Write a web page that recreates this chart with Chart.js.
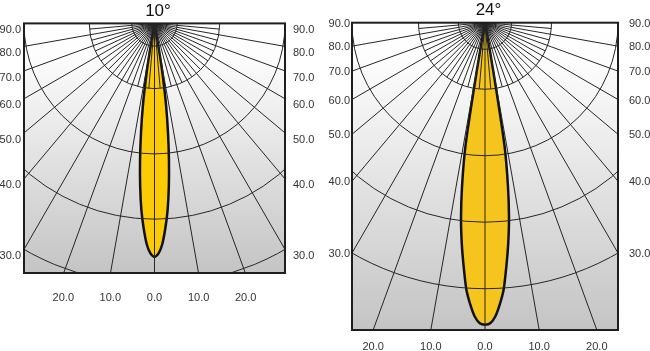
<!DOCTYPE html>
<html>
<head>
<meta charset="utf-8">
<script src="https://cdn.jsdelivr.net/npm/chart.js@4.4.1/dist/chart.umd.min.js"></script>
<style>
  body { margin: 0; background: #fff; }
  #wrap { position: relative; width: 650px; height: 351px; overflow: hidden; }
  #box1 { position: absolute; left: 0; top: 0; width: 316px; height: 351px; }
  #box2 { position: absolute; left: 327px; top: 0; width: 323px; height: 351px; }
</style>
</head>
<body>
<div id="wrap">
  <div id="box1"><canvas id="chart10" width="316" height="351"></canvas></div>
  <div id="box2"><canvas id="chart24" width="323" height="351"></canvas></div>
</div>
<script>
// angle labels (degrees from beam axis)
const sideAngles = [90, 80, 70, 60, 50, 40, 30];
const sideLabels = ["90.0", "80.0", "70.0", "60.0", "50.0", "40.0", "30.0"];
const bottomAngles = [-20, -10, 0, 10, 20];
const bottomLabels = ["20.0", "10.0", "0.0", "10.0", "20.0"];

// intensity rings, % of outer ring
const rings10 = [8.7, 25, 50, 75, 100];
const rings24 = [10, 25, 50, 75, 100];

// beam profiles: angle (deg) -> relative intensity (%)
const beamAngles10 = [0, 1, 2, 3, 4, 5, 6, 7, 8, 9, 9.5, 10, 10.5];
const beamValues10 = [89.8, 88.5, 85, 79, 72, 63, 53, 42.5, 32, 20, 12, 5, 0];
const beamAngles24 = [0, 1, 2, 3, 4, 5, 6, 7, 8, 9, 9.5, 10, 10.5];
const beamValues24 = [113.5, 113, 110.5, 106, 100.5, 92, 83.5, 74, 62, 47, 26, 10, 0];

const DEG = Math.PI / 180;
const FONT = "Arial, 'Liberation Sans', sans-serif";

function beamPoints(angles, values) {
    const pts = [];
    for (let i = angles.length - 1; i > 0; i--) {
        pts.push({ x: -values[i] * Math.sin(angles[i] * DEG), y: -values[i] * Math.cos(angles[i] * DEG) });
    }
    for (let i = 0; i < angles.length; i++) {
        pts.push({ x: values[i] * Math.sin(angles[i] * DEG), y: -values[i] * Math.cos(angles[i] * DEG) });
    }
    return pts;
}

const polarGrid = {
    id: "polarGrid",
    beforeDatasetsDraw(chart) {
        const a = chart.chartArea;
        const ctx = chart.ctx;
        const g = ctx.createLinearGradient(0, a.top, 0, a.bottom);
        g.addColorStop(0, "#ffffff");
        g.addColorStop(0.12, "#fdfdfd");
        g.addColorStop(1, "#c4c4c4");
        ctx.save();
        ctx.fillStyle = g;
        ctx.fillRect(a.left, a.top, a.width, a.height);
        ctx.restore();
    },
    afterDatasetsDraw(chart, args, opts) {
        const a = chart.chartArea;
        const ctx = chart.ctx;
        const xs = chart.scales.x, ys = chart.scales.y;
        const cx = xs.getPixelForValue(0), cy = ys.getPixelForValue(0);
        const unit = xs.getPixelForValue(1) - cx;
        ctx.save();
        ctx.beginPath();
        ctx.rect(a.left, a.top, a.width, a.height);
        ctx.clip();
        ctx.strokeStyle = "#262626";
        ctx.lineWidth = 1;
        // rings
        opts.rings.forEach(r => {
            ctx.beginPath();
            ctx.arc(cx, cy, r * unit, 0, Math.PI);
            ctx.stroke();
        });
        // major spokes every 10 deg
        for (let d = -80; d <= 80; d += 10) {
            ctx.beginPath();
            ctx.moveTo(cx, cy);
            ctx.lineTo(cx + Math.sin(d * DEG) * 1000, cy + Math.cos(d * DEG) * 1000);
            ctx.stroke();
        }
        // minor spokes up to the first full ring
        const len = opts.rings[1] * unit;
        for (let d = -85; d <= 85; d += 10) {
            ctx.beginPath();
            ctx.moveTo(cx, cy);
            ctx.lineTo(cx + Math.sin(d * DEG) * len, cy + Math.cos(d * DEG) * len);
            ctx.stroke();
        }
        ctx.restore();
        ctx.save();
        ctx.strokeStyle = "#1e1e1e";
        ctx.lineWidth = 2;
        ctx.strokeRect(a.left, a.top, a.width, a.height);
        ctx.restore();
    }
};

function makeChart(id, cfg) {
    const halfW = 50;
    const depth = cfg.depth;
    const sideTicks = {
        color: "#333",
        font: { family: FONT, size: 11 },
        autoSkip: false,
        labelOffset: cfg.sideOffset,
        callback: (v, i) => sideLabels[i]
    };
    const sideTickValues = sideAngles.map(d => ({ value: -halfW / Math.tan(d * DEG) }));

    new Chart(id, {
        type: "scatter",
        data: {
            datasets: [{
                data: beamPoints(cfg.angles, cfg.values),
                showLine: true,
                fill: "shape",
                backgroundColor: cfg.fill,
                borderColor: "#111",
                borderWidth: 2.5,
                tension: 0.25,
                pointRadius: 0
            }]
        },
        options: {
            responsive: false,
            animation: false,
            events: [],
            plugins: {
                legend: { display: false },
                tooltip: { enabled: false },
                title: {
                    display: true,
                    text: cfg.title,
                    color: "#111",
                    font: { family: FONT, size: 17, weight: "normal" },
                    padding: { top: cfg.titleTop, bottom: 2 }
                },
                polarGrid: { rings: cfg.rings }
            },
            scales: {
                x: {
                    type: "linear",
                    min: -halfW,
                    max: halfW,
                    bounds: "data",
                    grid: { display: false, drawTicks: false },
                    border: { display: false },
                    ticks: {
                        color: "#333",
                        font: { family: FONT, size: 11 },
                        autoSkip: false,
                        maxRotation: 0,
                        padding: cfg.bottomPad,
                        callback: (v, i) => bottomLabels[i]
                    },
                    afterBuildTicks: s => {
                        s.ticks = bottomAngles.map(d => ({ value: depth * Math.tan(d * DEG) }));
                    },
                    afterFit: s => { s.height = cfg.xHeight; }
                },
                y: {
                    type: "linear",
                    position: "left",
                    min: -depth,
                    max: 0,
                    bounds: "data",
                    grid: { display: false, drawTicks: false },
                    border: { display: false },
                    ticks: Object.assign({}, sideTicks, { padding: cfg.leftPad }),
                    afterBuildTicks: s => { s.ticks = sideTickValues.map(t => ({ value: t.value })); },
                    afterFit: s => { s.width = cfg.leftW; }
                },
                y2: {
                    type: "linear",
                    position: "right",
                    min: -depth,
                    max: 0,
                    bounds: "data",
                    grid: { display: false, drawTicks: false },
                    border: { display: false },
                    ticks: Object.assign({}, sideTicks, { padding: cfg.rightPad }),
                    afterBuildTicks: s => { s.ticks = sideTickValues.map(t => ({ value: t.value })); },
                    afterFit: s => { s.width = cfg.rightW; }
                }
            }
        },
        plugins: [polarGrid]
    });
}

makeChart("chart10", {
    title: "10°",
    angles: beamAngles10,
    values: beamValues10,
    rings: rings10,
    fill: "#fdcb05",
    depth: 96,
    titleTop: 1,
    leftW: 24, rightW: 31, xHeight: 78,
    leftPad: 3, rightPad: 8, bottomPad: 18,
    sideOffset: 7
});

makeChart("chart24", {
    title: "24°",
    angles: beamAngles24,
    values: beamValues24,
    rings: rings24,
    fill: "#f5c51d",
    depth: 115.5,
    titleTop: 0.3,
    leftW: 25, rightW: 32, xHeight: 21,
    leftPad: 2, rightPad: 11, bottomPad: 10,
    sideOffset: 1
});
</script>
</body>
</html>
